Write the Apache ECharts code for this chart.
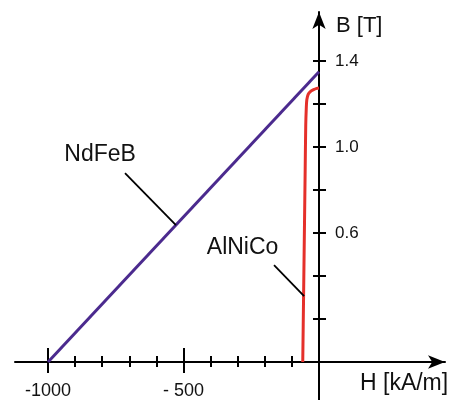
<!DOCTYPE html>
<html>
<head>
<meta charset="utf-8">
<script src="https://cdn.jsdelivr.net/npm/echarts@6/dist/echarts.min.js"></script>
<style>html,body{margin:0;padding:0;background:#fff}#c{width:462px;height:400px}</style>
</head>
<body>
<div id="c"></div>
<script>
// ---- data ----
var xMajorTicks = [-1000, -500];
var xMajorLabels = ['-1000', '- 500'];
var xMinorTicks = [-900, -800, -700, -600, -400, -300, -200, -100];
var yTicks = [0.2, 0.4, 0.6, 0.8, 1.0, 1.2, 1.4];
var yLabelValues = [0.6, 1.0, 1.4];
var yLabels = ['0.6', '1.0', '1.4'];
var ndfebH = [-1000, 0];
var ndfebB = [0, 1.35];
var alnicoH = [-60, -57, -54, -51, -49, -47, -45, -40, -33, -20, -8, 0];
var alnicoB = [0, 0.3, 0.6, 0.9, 1.1, 1.18, 1.22, 1.245, 1.257, 1.267, 1.273, 1.275];
var ndfebLeader = [[-716, 0.879], [-528, 0.637]];
var alnicoLeader = [[-166, 0.451], [-55, 0.307]];
var ndfebTextPos = [-808, 0.965];
var alnicoTextPos = [-282, 0.533];
var xName = 'H [kA/m]';
var yName = 'B [T]';

var FONT = 'Liberation Sans, Arial, sans-serif';
var X_MIN = -1122, X_MAX = 465, Y_MIN = -0.1767, Y_MAX = 1.628;
// grid layout (pixels)
var G_LEFT = 15, G_RIGHT = 17, G_TOP = 12, G_BOTTOM = 0;
var W = 462, H = 400;

function zip(a, b) { return a.map(function (v, i) { return [v, b[i]]; }); }

// pixel offsets of the zero lines from the grid's bottom / right edges
var gridW = W - G_LEFT - G_RIGHT, gridH = H - G_TOP - G_BOTTOM;
var zeroYpx = G_TOP + gridH * (Y_MAX - 0) / (Y_MAX - Y_MIN);
var zeroXpx = G_LEFT + gridW * (0 - X_MIN) / (X_MAX - X_MIN);
var xLabelOffset = -((H - G_BOTTOM) - zeroYpx);
var yLabelOffset = -((W - G_RIGHT) - zeroXpx);

function tickAxisX(values, len, inside) {
  return {
    type: 'value', min: X_MIN, max: X_MAX, position: 'bottom',
    axisLine: { show: false, onZero: true, onZeroAxisIndex: 0 },
    axisTick: { show: true, inside: inside, length: len, customValues: values, lineStyle: { color: '#000', width: 2 } },
    axisLabel: { show: false }, splitLine: { show: false }
  };
}
function tickAxisY(values, len, inside) {
  return {
    type: 'value', min: Y_MIN, max: Y_MAX, position: 'right',
    axisLine: { show: false, onZero: true, onZeroAxisIndex: 0 },
    axisTick: { show: true, inside: inside, length: len, customValues: values, lineStyle: { color: '#000', width: 2 } },
    axisLabel: { show: false }, splitLine: { show: false }
  };
}

var chart = echarts.init(document.getElementById('c'), null, { renderer: 'canvas' });
chart.setOption({
  animation: false,
  backgroundColor: '#fff',
  grid: { left: G_LEFT, right: G_RIGHT, top: G_TOP, bottom: G_BOTTOM, containLabel: false, outerBoundsMode: 'none' },
  xAxis: [
    {
      type: 'value', min: X_MIN, max: X_MAX, position: 'bottom',
      axisLine: { show: true, onZero: true, onZeroAxisIndex: 0, symbol: ['none', 'arrow'], symbolSize: [10, 17],
        lineStyle: { color: '#000', width: 2 } },
      axisTick: { show: true, length: 11, customValues: xMajorTicks, lineStyle: { color: '#000', width: 2 } },
      axisLabel: { show: false },
      splitLine: { show: false }
    },
    tickAxisX(xMajorTicks, 14, true),
    tickAxisX(xMinorTicks, 6, true),
    tickAxisX(xMinorTicks, 5, false),
    {
      type: 'value', min: X_MIN, max: X_MAX, position: 'bottom', offset: xLabelOffset,
      axisLine: { show: false, onZero: false }, axisTick: { show: false },
      axisLabel: { show: true, customValues: xMajorTicks, margin: 20, fontSize: 18, color: '#111', fontFamily: FONT,
        formatter: function (v) { var i = xMajorTicks.indexOf(v); return i >= 0 ? xMajorLabels[i] : ''; } },
      splitLine: { show: false }
    }
  ],
  yAxis: [
    {
      type: 'value', min: Y_MIN, max: Y_MAX, position: 'right',
      axisLine: { show: true, onZero: true, onZeroAxisIndex: 0, symbol: ['none', 'arrow'], symbolSize: [10, 17],
        lineStyle: { color: '#000', width: 2 } },
      axisTick: { show: true, length: 7, customValues: yTicks, lineStyle: { color: '#000', width: 2 } },
      axisLabel: { show: false },
      splitLine: { show: false }
    },
    tickAxisY(yTicks, 6, true),
    {
      type: 'value', min: Y_MIN, max: Y_MAX, position: 'right', offset: yLabelOffset,
      axisLine: { show: false, onZero: false }, axisTick: { show: false },
      axisLabel: { show: true, customValues: yLabelValues, margin: 16, fontSize: 17, color: '#111', fontFamily: FONT,
        formatter: function (v) { var i = yLabelValues.indexOf(v); return i >= 0 ? yLabels[i] : ''; } },
      splitLine: { show: false }
    }
  ],
  graphic: [
    { type: 'text', left: 360, top: 372, style: { text: xName, fontSize: 23, fontFamily: FONT, fill: '#111' } },
    { type: 'text', left: 336, top: 15, style: { text: yName, fontSize: 22, fontFamily: FONT, fill: '#111' } }
  ],
  series: [
    {
      type: 'line', name: 'NdFeB', xAxisIndex: 0, yAxisIndex: 0, data: zip(ndfebH, ndfebB),
      showSymbol: false, symbol: 'none', lineStyle: { color: '#4b2a8e', width: 3 }, z: 3,
      markLine: { silent: true, symbol: ['none', 'none'], label: { show: false },
        lineStyle: { color: '#000', width: 1.8, type: 'solid' },
        data: [[{ coord: ndfebLeader[0] }, { coord: ndfebLeader[1] }]] },
      markPoint: { silent: true, symbol: 'circle', symbolSize: 0,
        label: { show: true, position: 'inside', formatter: 'NdFeB', fontSize: 23, color: '#111', fontFamily: FONT },
        data: [{ coord: ndfebTextPos }] }
    },
    {
      type: 'line', name: 'AlNiCo', xAxisIndex: 0, yAxisIndex: 0, data: zip(alnicoH, alnicoB),
      showSymbol: false, symbol: 'none', smooth: 0.3, lineStyle: { color: '#e5302a', width: 3 }, z: 3,
      markLine: { silent: true, symbol: ['none', 'none'], label: { show: false },
        lineStyle: { color: '#000', width: 1.8, type: 'solid' },
        data: [[{ coord: alnicoLeader[0] }, { coord: alnicoLeader[1] }]] },
      markPoint: { silent: true, symbol: 'circle', symbolSize: 0,
        label: { show: true, position: 'inside', formatter: 'AlNiCo', fontSize: 23, color: '#111', fontFamily: FONT },
        data: [{ coord: alnicoTextPos }] }
    }
  ]
});
</script>
</body>
</html>
